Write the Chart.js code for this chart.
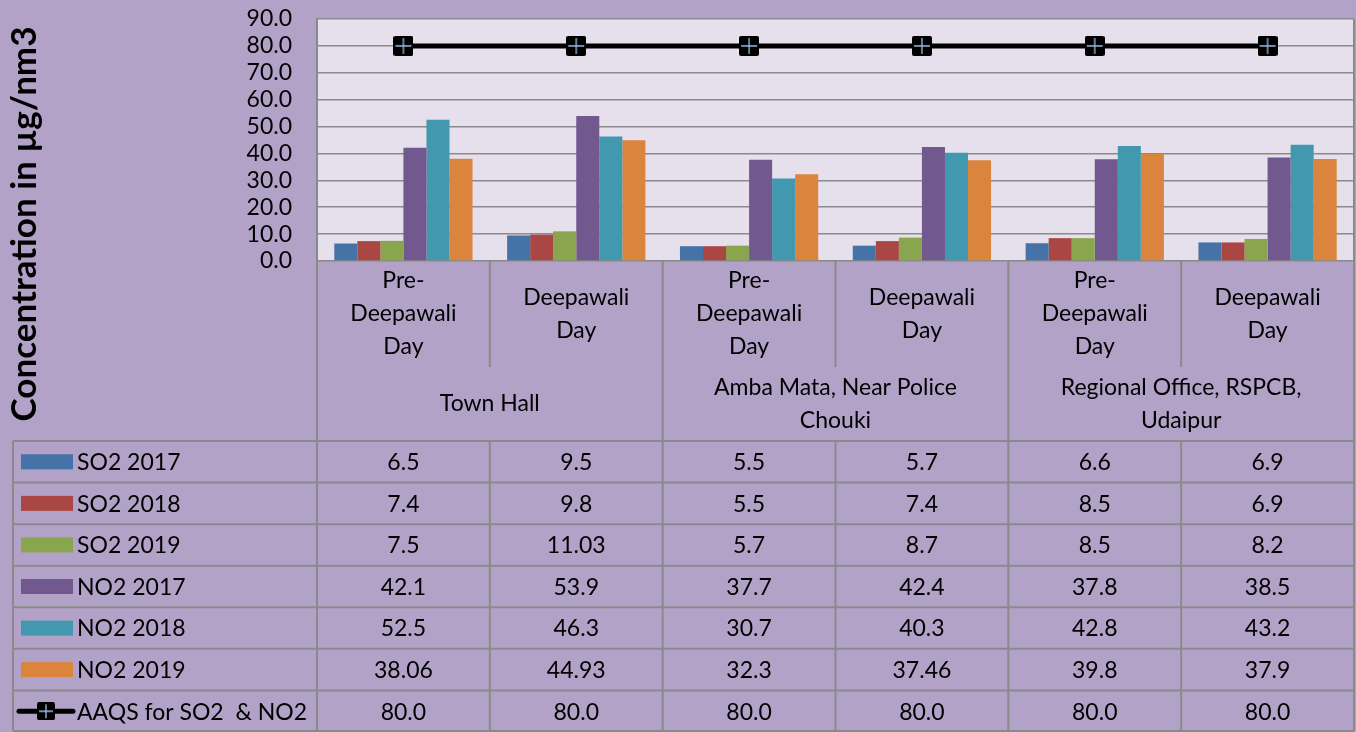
<!DOCTYPE html>
<html>
<head>
<meta charset="utf-8">
<script src="https://cdn.jsdelivr.net/npm/chart.js@4.4.1/dist/chart.umd.min.js"></script>
<style>
  html, body { margin: 0; padding: 0; background: #b3a2c7; }
  #wrap { width: 1356px; height: 732px; }
</style>
</head>
<body>
<div id="wrap"><canvas id="chart" width="1356" height="732"></canvas></div>
<script>
// categories (two days per site) and the site groups under them
const dayLabels = [
    ['Pre-', 'Deepawali', 'Day'], ['Deepawali', 'Day'],
    ['Pre-', 'Deepawali', 'Day'], ['Deepawali', 'Day'],
    ['Pre-', 'Deepawali', 'Day'], ['Deepawali', 'Day']
];
const siteLabels = [
    ['Town Hall'],
    ['Amba Mata, Near Police', 'Chouki'],
    ['Regional Office, RSPCB,', 'Udaipur']
];

// series values
const so2_2017 = [6.5, 9.5, 5.5, 5.7, 6.6, 6.9];
const so2_2018 = [7.4, 9.8, 5.5, 7.4, 8.5, 6.9];
const so2_2019 = [7.5, 11.03, 5.7, 8.7, 8.5, 8.2];
const no2_2017 = [42.1, 53.9, 37.7, 42.4, 37.8, 38.5];
const no2_2018 = [52.5, 46.3, 30.7, 40.3, 42.8, 43.2];
const no2_2019 = [38.06, 44.93, 32.3, 37.46, 39.8, 37.9];
const aaqs = [80, 80, 80, 80, 80, 80];

const yTicks = [0, 10, 20, 30, 40, 50, 60, 70, 80, 90];

const FONT = 'Lato';
const GRID = '#8a8a8a';
const TEXT_SIZE = 23;

// black square marker with a light blue cross, used on the line and in the table key
function makeMarker(size) {
    const c = document.createElement('canvas');
    c.width = size; c.height = size;
    const g = c.getContext('2d');
    g.fillStyle = '#000';
    g.beginPath();
    g.roundRect(0, 0, size, size, 2);
    g.fill();
    g.strokeStyle = '#9dbde3';
    g.lineWidth = 1.3;
    g.beginPath();
    g.moveTo(size / 2, 2); g.lineTo(size / 2, size - 2);
    g.moveTo(2, size / 2); g.lineTo(size - 2, size / 2);
    g.stroke();
    return c;
}
const marker = makeMarker(20);
const keyMarker = makeMarker(18);

function fmt(v) {
    return Math.abs(Math.round(v * 10) - v * 10) < 1e-9 ? v.toFixed(1) : v.toFixed(2);
}

function bar(label, data, color) {
    return {
        type: 'bar', label: label, data: data, backgroundColor: color,
        borderWidth: 0, categoryPercentage: 0.8, barPercentage: 1.0, order: 1
    };
}

const plotBackground = {
    id: 'plotBackground',
    beforeDraw(chart) {
        const a = chart.chartArea, ctx = chart.ctx;
        ctx.save();
        ctx.fillStyle = '#e6e0ec';
        ctx.fillRect(a.left, a.top, a.right - a.left, a.bottom - a.top);
        ctx.restore();
    }
};

const dataTable = {
    id: 'dataTable',
    afterDraw(chart) {
        const ctx = chart.ctx, a = chart.chartArea, xs = chart.scales.x;
        const colW = (a.right - a.left) / dayLabels.length;
        const tableTop = 441, tableLeft = 13, bottom = 731;
        const sets = chart.data.datasets;
        const rowH = (732 - tableTop) / sets.length;

        ctx.save();
        ctx.strokeStyle = GRID;
        ctx.lineWidth = 2;

        // y title
        ctx.save();
        ctx.translate(25, 224);
        ctx.rotate(-Math.PI / 2);
        ctx.fillStyle = '#000';
        ctx.font = 'bold 35px ' + FONT;
        ctx.textAlign = 'center';
        ctx.textBaseline = 'middle';
        ctx.fillText('Concentration in \u00b5g/nm3', 0, 0);
        ctx.restore();

        ctx.beginPath();
        // right border of the plot, continued through the table
        ctx.moveTo(a.right, a.top); ctx.lineTo(a.right, bottom);
        // left edge under the plot
        ctx.moveTo(a.left, a.bottom); ctx.lineTo(a.left, bottom);
        // column dividers
        for (let i = 1; i < dayLabels.length; i++) {
            const x = a.left + i * colW;
            if (i % 2 === 0) {
                ctx.moveTo(x, a.bottom); ctx.lineTo(x, bottom);
            } else {
                ctx.moveTo(x, a.bottom); ctx.lineTo(x, 367);
                ctx.moveTo(x, tableTop); ctx.lineTo(x, bottom);
            }
        }
        // table rows
        for (let r = 0; r <= sets.length; r++) {
            const y = Math.min(tableTop + r * rowH, bottom);
            ctx.moveTo(tableLeft, y); ctx.lineTo(a.right, y);
        }
        ctx.moveTo(tableLeft, tableTop); ctx.lineTo(tableLeft, bottom);
        ctx.stroke();

        ctx.fillStyle = '#000';
        ctx.textAlign = 'center';
        ctx.textBaseline = 'middle';
        ctx.font = TEXT_SIZE + 'px ' + FONT;
        const lh = 33;

        // day labels
        dayLabels.forEach((lines, i) => {
            const cx = xs.getPixelForValue(i);
            const y0 = 314 - (lines.length - 1) * lh / 2;
            lines.forEach((t, k) => ctx.fillText(t, cx, y0 + k * lh));
        });
        // site labels
        siteLabels.forEach((lines, j) => {
            const cx = a.left + (2 * j + 1) * colW;
            const y0 = 404 - (lines.length - 1) * lh / 2;
            lines.forEach((t, k) => ctx.fillText(t, cx, y0 + k * lh));
        });

        // rows: key, name, values
        sets.forEach((ds, r) => {
            const cy = tableTop + r * rowH + rowH / 2;
            if (ds.type === 'line') {
                ctx.save();
                ctx.strokeStyle = '#000';
                ctx.lineWidth = 5;
                ctx.lineCap = 'round';
                ctx.beginPath();
                ctx.moveTo(19, cy); ctx.lineTo(73, cy);
                ctx.stroke();
                ctx.restore();
                ctx.drawImage(keyMarker, 46 - 9, cy - 9);
            } else {
                ctx.fillStyle = ds.backgroundColor;
                ctx.fillRect(21, cy - 7.5, 52, 15);
            }
            ctx.fillStyle = '#000';
            ctx.textAlign = 'left';
            ctx.fillText(ds.label, 77, cy + 1);
            ctx.textAlign = 'center';
            ds.data.forEach((v, i) => ctx.fillText(fmt(v), xs.getPixelForValue(i), cy + 1));
        });
        ctx.restore();
    }
};

new Chart(document.getElementById('chart'), {
    data: {
        labels: dayLabels.map(l => l.join(' ')),
        datasets: [
            bar('SO2 2017', so2_2017, '#4572a7'),
            bar('SO2 2018', so2_2018, '#aa4643'),
            bar('SO2 2019', so2_2019, '#89a54e'),
            bar('NO2 2017', no2_2017, '#71588f'),
            bar('NO2 2018', no2_2018, '#4198af'),
            bar('NO2 2019', no2_2019, '#db843d'),
            {
                type: 'line', label: 'AAQS for SO2  & NO2', data: aaqs,
                borderColor: '#000', borderWidth: 5, pointStyle: marker,
                pointRadius: 10, fill: false, order: 0
            }
        ]
    },
    options: {
        responsive: false,
        devicePixelRatio: 1,
        animation: false,
        layout: { autoPadding: false, padding: { left: 0, right: 2, top: 19, bottom: 471 } },
        plugins: { legend: { display: false }, tooltip: { enabled: false } },
        scales: {
            x: { display: false, offset: true },
            y: {
                min: yTicks[0], max: yTicks[yTicks.length - 1],
                afterFit: scale => {
                    scale.width = 317;
                    scale.paddingTop = 0;
                    scale.paddingBottom = 0;
                },
                afterBuildTicks: scale => { scale.ticks = yTicks.map(v => ({ value: v })); },
                ticks: {
                    padding: 25, color: '#000', autoSkip: false,
                    font: { family: FONT, size: TEXT_SIZE },
                    callback: v => v.toFixed(1)
                },
                grid: { color: GRID, lineWidth: 1.5, drawTicks: false },
                border: { color: GRID, width: 2 }
            }
        }
    },
    plugins: [plotBackground, dataTable]
});
</script>
</body>
</html>
